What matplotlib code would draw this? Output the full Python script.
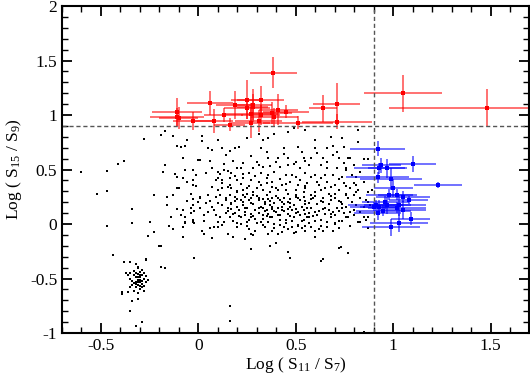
import numpy as np
import matplotlib.pyplot as plt
from matplotlib.ticker import MultipleLocator

plt.rcParams['font.family'] = ['Liberation Serif', 'DejaVu Serif']
plt.rcParams['mathtext.fontset'] = 'custom'
plt.rcParams['mathtext.rm'] = 'Liberation Serif'
plt.rcParams['mathtext.it'] = 'Liberation Serif'

# background field sources, (log S11/S7, log S15/S9)
field_dots = [
    (-0.28, 0.78), (-0.19, 0.82), (-0.17, 0.85), (-0.13, 0.81), (-0.06, 0.77), (-0.11, 0.72),
    (-0.09, 0.71), (-0.07, 0.72), (0.02, 0.81), (0.02, 0.76), (0.05, 0.70), (0.07, 0.68),
    (0.10, 0.77), (0.12, 0.70), (0.16, 0.67), (0.19, 0.70), (0.21, 0.71), (0.25, 0.79),
    (-0.08, 0.61), (0.01, 0.59), (-0.17, 0.54), (-0.18, 0.48), (-0.12, 0.46), (-0.11, 0.43),
    (-0.07, 0.50), (-0.03, 0.50), (0.07, 0.51), (0.10, 0.48), (0.11, 0.46), (0.15, 0.49),
    (0.17, 0.47), (0.20, 0.51), (0.22, 0.51), (0.23, 0.46), (0.26, 0.47), (0.28, 0.51),
    (0.04, 0.47), (0.10, 0.42), (0.12, 0.40), (0.16, 0.42), (0.20, 0.40), (0.23, 0.42),
    (0.27, 0.40), (-0.03, 0.36), (-0.10, 0.33), (0.07, 0.34), (0.10, 0.31), (0.12, 0.33),
    (0.15, 0.34), (0.17, 0.33), (0.20, 0.29), (0.23, 0.31), (0.25, 0.33), (0.28, 0.29),
    (-0.23, 0.27), (-0.16, 0.25), (-0.13, 0.27), (-0.04, 0.28), (0.01, 0.25), (0.05, 0.27),
    (0.09, 0.25), (0.11, 0.27), (0.14, 0.24), (0.16, 0.27), (0.19, 0.25), (0.22, 0.22),
    (0.24, 0.25), (0.27, 0.24), (0.28, 0.27), (-0.16, 0.17), (-0.08, 0.13), (-0.03, 0.17),
    (0.01, 0.15), (0.04, 0.19), (0.07, 0.16), (0.10, 0.19), (0.12, 0.17), (0.15, 0.15),
    (0.17, 0.18), (0.20, 0.16), (0.23, 0.17), (0.25, 0.15), (0.28, 0.18), (-0.14, 0.06),
    (-0.09, 0.08), (-0.04, 0.10), (0.03, 0.08), (0.05, 0.11), (0.09, 0.08), (0.11, 0.06),
    (0.14, 0.10), (0.16, 0.06), (0.19, 0.10), (0.22, 0.06), (0.24, 0.08), (0.27, 0.06),
    (-0.25, 0.02), (-0.07, 0.02), (-0.03, 0.02), (0.10, 0.02), (0.13, 0.02), (0.18, 0.03),
    (0.25, 0.02),
    (0.31, 0.83), (0.33, 0.77), (0.36, 0.79), (0.32, 0.70), (0.39, 0.83), (0.46, 0.84),
    (0.55, 0.86), (0.49, 0.88), (0.60, 0.77), (0.68, 0.80), (0.74, 0.79), (0.82, 0.86),
    (0.44, 0.70), (0.51, 0.71), (0.53, 0.66), (0.60, 0.70), (0.66, 0.70), (0.69, 0.72),
    (0.69, 0.63), (0.75, 0.71), (0.36, 0.61), (0.41, 0.61), (0.46, 0.61), (0.50, 0.57),
    (0.54, 0.61), (0.58, 0.61), (0.64, 0.61), (0.72, 0.61), (0.77, 0.61), (0.31, 0.54),
    (0.33, 0.52), (0.37, 0.53), (0.42, 0.52), (0.46, 0.54), (0.52, 0.51), (0.57, 0.54),
    (0.63, 0.54), (0.66, 0.51), (0.71, 0.51), (0.76, 0.51), (0.32, 0.47), (0.36, 0.45),
    (0.39, 0.48), (0.45, 0.45), (0.50, 0.43), (0.55, 0.47), (0.60, 0.45), (0.63, 0.42),
    (0.69, 0.45), (0.74, 0.43), (0.79, 0.45), (0.31, 0.39), (0.35, 0.38), (0.38, 0.39),
    (0.43, 0.36), (0.47, 0.39), (0.51, 0.36), (0.56, 0.38), (0.62, 0.36), (0.66, 0.39),
    (0.70, 0.36), (0.75, 0.38), (0.81, 0.36), (0.33, 0.31), (0.37, 0.29), (0.41, 0.31),
    (0.46, 0.28), (0.50, 0.31), (0.54, 0.29), (0.58, 0.27), (0.63, 0.31), (0.67, 0.28),
    (0.72, 0.31), (0.76, 0.28), (0.81, 0.29), (0.31, 0.24), (0.34, 0.20), (0.38, 0.24),
    (0.42, 0.22), (0.46, 0.20), (0.51, 0.24), (0.55, 0.21), (0.59, 0.24), (0.64, 0.20),
    (0.68, 0.22), (0.73, 0.20), (0.77, 0.24), (0.32, 0.16), (0.35, 0.13), (0.38, 0.16),
    (0.43, 0.13), (0.47, 0.16), (0.51, 0.11), (0.56, 0.15), (0.60, 0.11), (0.65, 0.15),
    (0.69, 0.11), (0.74, 0.15), (0.78, 0.11), (0.33, 0.08), (0.37, 0.06), (0.41, 0.08),
    (0.45, 0.04), (0.49, 0.06), (0.53, 0.03), (0.57, 0.06), (0.63, 0.04), (0.68, 0.06),
    (0.72, 0.03), (0.77, 0.06), (0.82, 0.02),
    (-0.15, -0.02), (-0.13, -0.05), (-0.08, -0.03), (-0.07, 0.01), (-0.02, 0.01), (0.02, -0.06),
    (0.03, -0.09), (0.06, -0.04), (0.07, -0.13), (0.08, -0.03), (0.10, -0.03), (0.12, -0.01),
    (0.15, -0.09), (0.18, -0.12), (0.20, 0.01), (0.24, -0.14), (0.26, -0.05), (0.27, -0.09),
    (0.28, -0.10), (0.27, -0.23), (-0.26, -0.11), (-0.23, -0.07), (-0.19, -0.20), (-0.08, -0.12),
    (-0.02, -0.31), (-0.19, -0.39), (-0.17, -0.40), (-0.27, -0.33), (0.16, -0.75), (0.16, -0.89),
    (-0.44, -0.28), (-0.38, -0.35), (-0.35, -0.35), (-0.32, -0.37), (-0.31, -0.39), (-0.27, -0.32),
    (-0.20, -0.20), (-0.37, -0.45), (-0.35, -0.45), (-0.39, -0.62), (-0.39, -0.64), (-0.36, -0.62),
    (-0.34, -0.71), (-0.35, -0.80), (-0.31, -0.69), (-0.32, -0.94), (-0.29, -0.90),
    (-0.60, 0.48), (-0.52, 0.28), (-0.47, 0.49), (-0.47, 0.30), (-0.41, 0.55), (-0.38, 0.58),
    (-0.47, -0.02), (-0.34, 0.14), (-0.34, 0.01), (-0.11, 0.33), (-0.06, 0.39), (-0.08, 0.42),
    (-0.03, 0.40), (-0.01, 0.35), (0.00, 0.59), (-0.03, 0.23), (0.01, 0.24), (-0.11, 0.14),
    (-0.04, 0.15), (-0.02, 0.12), (-0.07, 0.06), (-0.03, 0.04),
    (0.32, 0.02), (0.33, -0.01), (0.36, -0.09), (0.37, -0.20), (0.40, -0.17), (0.39, -0.04),
    (0.42, -0.01), (0.43, -0.07), (0.41, -0.09), (0.46, -0.26), (0.47, -0.31), (0.46, -0.05),
    (0.48, -0.03), (0.50, -0.07), (0.51, -0.02), (0.53, -0.04), (0.55, -0.02), (0.55, -0.06),
    (0.60, -0.06), (0.60, -0.12), (0.62, -0.05), (0.64, -0.06), (0.63, -0.34), (0.64, -0.32),
    (0.69, -0.06), (0.70, 0.01), (0.72, -0.22), (0.73, -0.21), (0.77, -0.27), (0.83, 0.02),
    (0.82, 0.75), (0.78, 0.61), (0.80, 0.54), (0.85, 0.60), (0.87, 0.60), (0.76, 0.50),
    (0.83, 0.48), (0.81, 0.43), (0.85, 0.39), (0.80, 0.38), (0.78, 0.33), (0.82, 0.31),
    (0.87, 0.29), (0.89, 0.31), (0.76, 0.27), (0.80, 0.27), (0.83, 0.24), (0.86, 0.22),
    (0.79, 0.20), (0.81, 0.17), (0.87, 0.20), (0.76, 0.16), (0.80, 0.13), (0.85, 0.16),
    (0.88, 0.17), (0.75, 0.10), (0.78, 0.11), (0.83, 0.11), (0.87, 0.06), (0.76, 0.06),
    (0.80, 0.08), (0.85, 0.06), (0.86, 0.04), (0.87, -0.04), (0.85, -0.99),
    (0.15, 0.12), (0.18, 0.09), (0.21, 0.13), (0.24, 0.11), (0.27, 0.09), (0.29, 0.13),
    (0.31, 0.10), (0.34, 0.12), (0.36, 0.09), (0.38, 0.14), (0.40, 0.11), (0.42, 0.08),
    (0.44, 0.12), (0.46, 0.09), (0.48, 0.13), (0.50, 0.10), (0.52, 0.08), (0.54, 0.13),
    (0.57, 0.10), (0.59, 0.07), (0.62, 0.12), (0.65, 0.09), (0.67, 0.13), (0.70, 0.08),
    (0.72, 0.12), (0.14, 0.22), (0.17, 0.19), (0.20, 0.23), (0.23, 0.20), (0.26, 0.22),
    (0.28, 0.18), (0.31, 0.22), (0.34, 0.18), (0.36, 0.23), (0.39, 0.19), (0.41, 0.24),
    (0.44, 0.18), (0.47, 0.23), (0.49, 0.17), (0.52, 0.22), (0.55, 0.18), (0.58, 0.23),
    (0.61, 0.18), (0.64, 0.24), (0.67, 0.18), (0.70, 0.24), (0.74, 0.18), (0.18, 0.03),
    (0.22, 0.00), (0.26, 0.04), (0.30, 0.01), (0.33, 0.05), (0.36, 0.02), (0.39, 0.00),
    (0.42, 0.04), (0.45, 0.01), (0.48, 0.03), (0.51, -0.01), (0.54, 0.04), (0.57, 0.01),
    (0.60, 0.03), (0.63, -0.02), (0.66, 0.02), (0.70, 0.00), (0.74, 0.03), (0.20, 0.30),
    (0.25, 0.28), (0.30, 0.33), (0.35, 0.27), (0.40, 0.33), (0.45, 0.31), (0.50, 0.27),
    (0.55, 0.33), (0.60, 0.29), (0.65, 0.33), (0.70, 0.28), (0.38, 0.06), (0.41, 0.15),
    (0.43, 0.20), (0.37, 0.17), (0.46, 0.14), (0.33, 0.15), (0.29, 0.05), (0.49, 0.06),
    (0.53, 0.16), (0.56, 0.06),
    (0.12, 0.38), (0.16, 0.36), (0.19, 0.44), (0.22, 0.37), (0.26, 0.35), (0.29, 0.44),
    (0.32, 0.36), (0.35, 0.42), (0.38, 0.34), (0.42, 0.41), (0.45, 0.37), (0.48, 0.45),
    (0.52, 0.40), (0.55, 0.35), (0.58, 0.43), (0.61, 0.39), (0.65, 0.45), (0.68, 0.34),
    (0.72, 0.41), (0.76, 0.35), (0.13, 0.55), (0.18, 0.58), (0.23, 0.56), (0.27, 0.62),
    (0.30, 0.57), (0.35, 0.66), (0.40, 0.57), (0.44, 0.64), (0.49, 0.55), (0.55, 0.58),
    (0.61, 0.65), (0.66, 0.57), (0.71, 0.66), (0.75, 0.56), (0.16, 0.27), (0.19, 0.21),
    (0.23, 0.27), (0.27, 0.19), (0.30, 0.26), (0.33, 0.23), (0.37, 0.21), (0.40, 0.26),
    (0.44, 0.24), (0.47, 0.19), (0.50, 0.25), (0.54, 0.25), (0.57, 0.19), (0.60, 0.26),
    (0.63, 0.21), (0.68, 0.26), (0.72, 0.21), (0.17, 0.14), (0.21, 0.07), (0.24, 0.15),
    (0.28, 0.07), (0.31, 0.15), (0.35, 0.07), (0.39, 0.12), (0.43, 0.16), (0.47, 0.07),
    (0.50, 0.14), (0.55, 0.09), (0.58, 0.15), (0.61, 0.08), (0.64, 0.14), (0.68, 0.09),
    (0.71, 0.15), (0.20, -0.03), (0.25, -0.02), (0.29, -0.06), (0.34, -0.03), (0.38, -0.06),
    (0.44, -0.03), (0.49, -0.08), (0.58, -0.03), (0.66, -0.03), (0.72, -0.04), (0.78, -0.02),
    (0.06, 0.21), (0.08, 0.13), (0.03, 0.03), (0.00, 0.20), (-0.06, 0.21), (0.09, 0.40),
    (0.13, 0.50), (0.06, 0.58), (0.14, 0.63), (-0.01, 0.45),
]

# compact clump near (-0.3, -0.5)
cluster_dots = [
    (-0.31, -0.51), (-0.30, -0.49), (-0.32, -0.53), (-0.29, -0.55), (-0.33, -0.47), (-0.30, -0.44),
    (-0.28, -0.50), (-0.31, -0.56), (-0.34, -0.52), (-0.29, -0.47), (-0.32, -0.58), (-0.30, -0.60),
    (-0.27, -0.53), (-0.33, -0.43), (-0.31, -0.40), (-0.28, -0.45), (-0.35, -0.50), (-0.30, -0.53),
    (-0.32, -0.49), (-0.29, -0.58), (-0.31, -0.63), (-0.34, -0.56), (-0.27, -0.48), (-0.30, -0.47),
    (-0.33, -0.61), (-0.29, -0.42), (-0.31, -0.46), (-0.36, -0.47), (-0.28, -0.57), (-0.32, -0.55),
    (-0.30, -0.57), (-0.31, -0.53), (-0.29, -0.52), (-0.33, -0.54), (-0.30, -0.51), (-0.26, -0.51),
    (-0.35, -0.58), (-0.32, -0.45), (-0.28, -0.61), (-0.31, -0.49),
]

# red sources (high S15/S9)
red_x = [0.385, 0.06, -0.11, -0.11, -0.10, -0.03, 0.08, 0.13, 0.16, 0.19, 0.25, 0.28, 0.25, 0.28, 0.32,
         0.27, 0.32, 0.31, 0.27, 0.38, 0.39, 0.41, 0.45, 0.51, 0.64, 0.71, 0.71, 1.05, 1.48]
red_y = [1.39, 1.11, 1.03, 0.98, 0.97, 0.945, 0.945, 1.00, 0.91, 1.09, 1.14, 1.09, 1.06, 1.07, 1.14,
         1.01, 1.00, 0.945, 0.93, 1.02, 0.98, 1.05, 1.03, 0.93, 1.06, 1.10, 0.94, 1.20, 1.065]
red_xerr = [0.12, 0.12, 0.13, 0.14, 0.10, 0.10, 0.10, 0.10, 0.08, 0.10, 0.08, 0.10, 0.12, 0.08, 0.12,
            0.14, 0.10, 0.12, 0.10, 0.10, 0.12, 0.10, 0.12, 0.18, 0.07, 0.12, 0.18, 0.20, 0.50]
red_yerr = [0.14, 0.11, 0.13, 0.08, 0.10, 0.08, 0.11, 0.06, 0.06, 0.13, 0.18, 0.15, 0.10, 0.12, 0.13,
            0.10, 0.09, 0.10, 0.14, 0.10, 0.08, 0.14, 0.06, 0.06, 0.12, 0.19, 0.07, 0.17, 0.17]

# blue sources (high S11/S7)
blue_x = [0.92, 1.10, 0.94, 0.93, 0.97, 0.92, 0.99, 1.23, 1.00, 0.98, 1.02, 1.05, 1.08,
          0.96, 0.91, 0.90, 0.93, 0.97, 1.03, 1.02, 1.05, 0.95, 0.92, 1.09, 1.03, 0.99]
blue_y = [0.69, 0.55, 0.54, 0.51, 0.51, 0.43, 0.41, 0.36, 0.33, 0.27, 0.27, 0.25, 0.22,
          0.20, 0.17, 0.16, 0.16, 0.17, 0.17, 0.15, 0.13, 0.12, 0.10, 0.05, 0.01, -0.03]
blue_xerr = [0.14, 0.12, 0.10, 0.13, 0.10, 0.16, 0.16, 0.125, 0.10, 0.12, 0.10, 0.14, 0.10,
             0.12, 0.14, 0.12, 0.10, 0.12, 0.14, 0.15, 0.12, 0.14, 0.12, 0.10, 0.15, 0.15]
blue_yerr = [0.07, 0.07, 0.07, 0.05, 0.09, 0.05, 0.10, 0.03, 0.08, 0.05, 0.05, 0.05, 0.04,
             0.06, 0.05, 0.04, 0.06, 0.08, 0.10, 0.05, 0.08, 0.05, 0.06, 0.06, 0.08, 0.08]

x_cut = 0.9
y_cut = 0.9

fig = plt.figure(figsize=(5.3, 3.78), dpi=100)
ax = fig.add_axes([0.117, 0.119, 0.882, 0.865])

dots = np.array(field_dots + cluster_dots)
ax.plot(dots[:, 0], dots[:, 1], ls="none", marker="s", ms=1.5, color="black", mew=0)

ax.errorbar(red_x, red_y, xerr=red_xerr, yerr=red_yerr, fmt="s", ms=3, color="red",
            ecolor=(1, 0, 0, 0.6), elinewidth=1.3, capsize=0, mew=0)
ax.errorbar(blue_x, blue_y, xerr=blue_xerr, yerr=blue_yerr, fmt="s", ms=3, color="blue",
            ecolor=(0, 0, 1, 0.6), elinewidth=1.3, capsize=0, mew=0)

ax.axvline(x_cut, color="#555555", ls="--", lw=1, dashes=(3, 2))
ax.axhline(y_cut, color="#555555", ls="--", lw=1, dashes=(3, 2))

ax.set_xlim(-0.7, 1.7)
ax.set_ylim(-1, 2)
ax.xaxis.set_major_locator(MultipleLocator(0.5))
ax.xaxis.set_minor_locator(MultipleLocator(0.1))
ax.yaxis.set_major_locator(MultipleLocator(0.5))
ax.yaxis.set_minor_locator(MultipleLocator(0.1))
ax.xaxis.set_major_formatter(plt.FuncFormatter(lambda v, p: f"{v:g}"))
ax.yaxis.set_major_formatter(plt.FuncFormatter(lambda v, p: f"{v:g}"))
ax.tick_params(which="both", direction="in", top=True, right=True, labelsize=12.5, colors="black")
ax.tick_params(which="major", length=7, width=1.3)
ax.tick_params(which="minor", length=4, width=1)
for s in ax.spines.values():
    s.set_linewidth(1.5)

ax.set_xlabel("Log ( S$_{11}$ / S$_7$)", fontsize=12.5, labelpad=1)
ax.set_ylabel("Log ( S$_{15}$ / S$_9$)", fontsize=12.5, labelpad=4)

fig.savefig("out.png", dpi=100)
